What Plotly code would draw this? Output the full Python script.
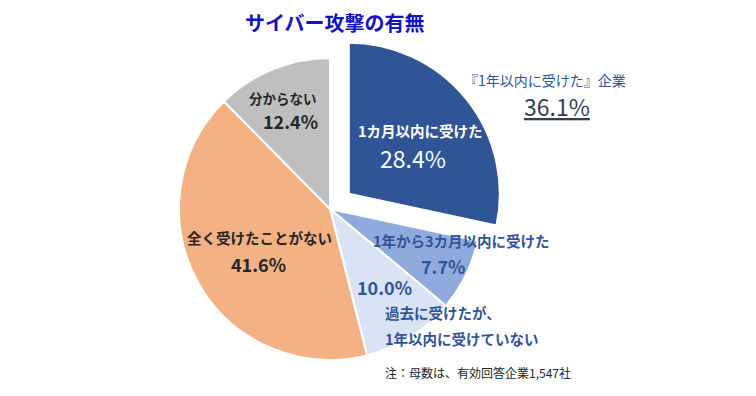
import plotly.graph_objects as go

title_text = "サイバー攻撃の有無"
categories = ["1カ月以内に受けた", "1年から3カ月以内に受けた", "過去に受けたが、1年以内に受けていない",
              "全く受けたことがない", "分からない"]
values = [28.4, 7.7, 10.0, 41.6, 12.4]
colors = ["#2F5597", "#8FAADC", "#DAE3F3", "#F4B183", "#BFBFBF"]
pulls = [0.16, 0, 0, 0, 0]
summary_label = "『1年以内に受けた』企業"
summary_value = 36.1
note = "注：母数は、有効回答企業1,547社"

W, H = 756, 396
OFF = 8  # page body margin of the browser
FONT = "Noto Sans CJK JP"

cx, cy, half = 330 - OFF, 209 - OFF, 151 * (1 + max(pulls))

fig = go.Figure(go.Pie(
    labels=categories, values=values, sort=False, direction="clockwise", rotation=0,
    marker=dict(colors=colors, line=dict(color="white", width=2)),
    pull=pulls, textinfo="none", hoverinfo="label+percent", showlegend=False,
    domain=dict(x=[(cx - half) / W, (cx + half) / W],
                y=[1 - (cy + half) / H, 1 - (cy - half) / H]),
))

def px(x, y):
    return (x - OFF) / W, 1 - (y - OFF) / H

anns = []
def add(text, x, y, size, color, bold=False, xanchor="center"):
    xx, yy = px(x, y)
    anns.append(dict(text=f"<b>{text}</b>" if bold else text, x=xx, y=yy, xref="paper", yref="paper",
                     xanchor=xanchor, yanchor="middle", showarrow=False,
                     font=dict(family=FONT, size=size, color=color)))

BLUE = "#2F5597"
DARK = "#262626"
add(title_text, 335, 22, 20, "#1212C4", bold=True)
add(summary_label, 545, 80, 14, BLUE)
add(f"<u>{summary_value:.1f}%</u>", 557, 106, 23, "#333F50")
add(categories[0], 420, 130, 14.5, "white", bold=True)
add(f"{values[0]:.1f}%", 413, 158, 23, "white")
add(categories[1], 461, 241, 14.5, BLUE, bold=True)
add(f"{values[1]:.1f}%", 443, 266, 18, BLUE, bold=True)
add(f"{values[2]:.1f}%", 384, 287, 18, BLUE, bold=True)
add("過去に受けたが、", 383, 312, 14.5, BLUE, bold=True, xanchor="left")
add("1年以内に受けていない", 383, 338, 14.5, BLUE, bold=True, xanchor="left")
add(categories[4], 283, 98, 13.5, DARK, bold=True)
add(f"{values[4]:.1f}%", 290, 121, 18, DARK, bold=True)
add(categories[3], 259, 237, 14.5, DARK, bold=True)
add(f"{values[3]:.1f}%", 258, 264, 18, DARK, bold=True)
add(note, 383, 372, 12, DARK, xanchor="left")

fig.update_layout(width=W, height=H, margin=dict(l=0, r=0, t=0, b=0),
                  paper_bgcolor="white", plot_bgcolor="white", annotations=anns)
fig.write_html("out.html")
